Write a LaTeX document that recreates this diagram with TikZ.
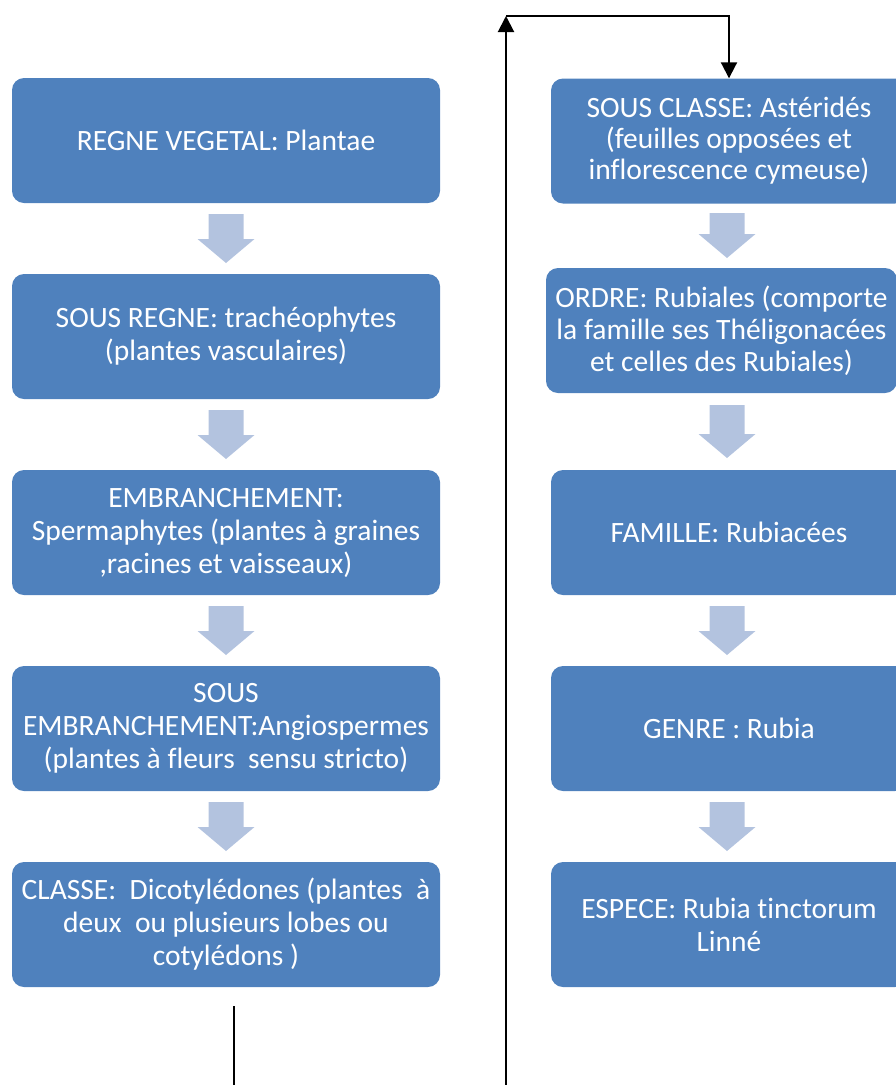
\documentclass[tikz,border=0pt]{standalone}
\usepackage{fontspec}
\setmainfont{Carlito}[Ligatures=NoCommon]
\usetikzlibrary{arrows.meta,calc}
\definecolor{boxblue}{HTML}{4F81BD}
\definecolor{arrowblue}{HTML}{B3C3DF}
\tikzset{
  box/.style={fill=boxblue, rounded corners=12pt, text=white, align=center,
    font=\fontsize{29.5}{33}\selectfont, inner sep=0pt, minimum height=125pt},
  lbox/.style={box, minimum width=428pt},
  rbox/.style={box, minimum width=356pt},
  barrowshape/.style={fill=arrowblue},
  conn/.style={line width=2pt, -{Triangle[width=16pt,length=16pt]}},
  plainline/.style={line width=2pt}
}
\newcommand\barrow[3]{\fill[barrowshape] (#1-17.5,#2) -- (#1+17.5,#2) -- (#1+17.5,#3-24) -- (#1+28.5,#3-24) -- (#1,#3) -- (#1-28.5,#3-24) -- (#1-17.5,#3-24) -- cycle;}
\begin{document}
\begin{tikzpicture}[x=1pt,y=-1pt]
\useasboundingbox (0,0) rectangle (896,1085);
% left column
\node[lbox] (regne) at (226,140.5) {REGNE VEGETAL: Plantae};
\node[lbox] (sregne) at (226,336.5) {SOUS REGNE: trachéophytes\\(plantes vasculaires)};
\node[lbox] (embr) at (226,532.5) {EMBRANCHEMENT:\\Spermaphytes (plantes à graines\\,racines et vaisseaux)};
\node[lbox] (sembr) at (226,728.5) {SOUS\\EMBRANCHEMENT:Angiospermes\\(plantes à fleurs\ \ sensu stricto)};
\node[lbox] (classe) at (226,924.5) {CLASSE:\ \ Dicotylédones (plantes\ \ à\\deux\ \ ou plusieurs lobes ou\\cotylédons )};
% right column
\node[rbox, font=\fontsize{29.5}{31}\selectfont] (sclasse) at (729,141) {SOUS CLASSE: Astéridés\\(feuilles opposées et\\inflorescence cymeuse)};
\node[rbox, minimum width=351pt, font=\fontsize{29.5}{32}\selectfont] (ordre) at (721.5,330.5) {ORDRE: Rubiales (comporte\\la famille ses Théligonacées\\et celles des Rubiales)};
\node[rbox] (famille) at (729,532.5) {FAMILLE: Rubiacées};
\node[rbox] (genre) at (729,728.5) {GENRE : Rubia};
\node[rbox] (espece) at (729,924.5) {ESPECE: Rubia tinctorum\\Linné};
% block arrows
\barrow{226}{214}{263}
\barrow{226}{410}{459}
\barrow{226}{606}{655}
\barrow{226}{802}{851}
\barrow{727}{213}{258}
\barrow{727}{405}{458}
\barrow{727}{606}{655}
\barrow{727}{802}{851}
% connectors
\coordinate (ltop) at (234,1006);
\coordinate (lbot) at (234,1085);
\draw[plainline] (ltop) -- (lbot);
\coordinate (rbot) at (506,1085);
\coordinate (corner) at (506,16);
\draw[conn] (rbot) -- (corner);
\draw[conn] (corner) -| (sclasse.north);
\end{tikzpicture}
\end{document}
